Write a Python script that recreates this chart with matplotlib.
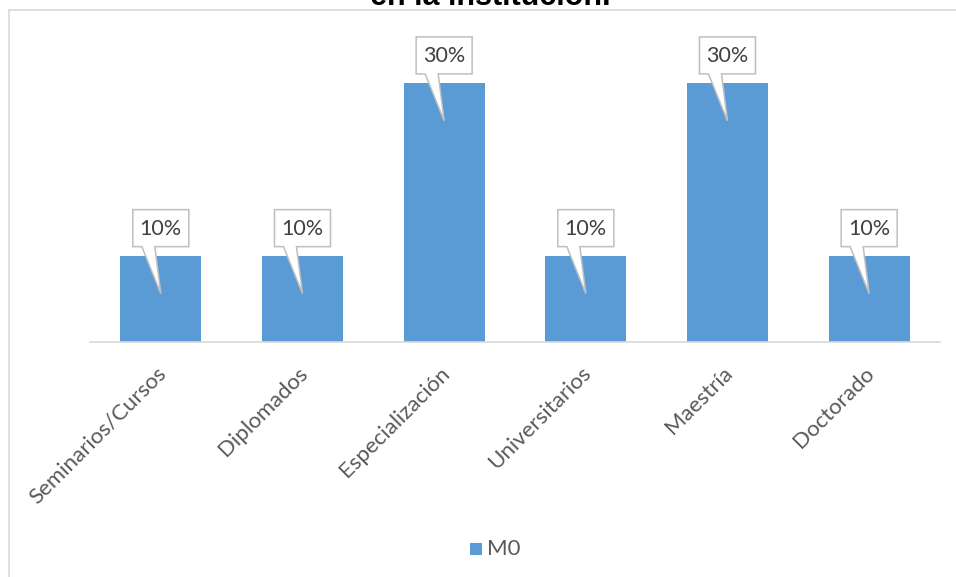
import matplotlib
matplotlib.use("Agg")
import matplotlib.pyplot as plt
from matplotlib.patches import Polygon, Rectangle

categories = ["Seminarios/Cursos", "Diplomados", "Especialización", "Universitarios", "Maestría", "Doctorado"]
values = [0.10, 0.10, 0.30, 0.10, 0.30, 0.10]
labels = ["10%", "10%", "30%", "10%", "30%", "10%"]
series_name = "M0"
title_text = "en la institución."

W, H = 956, 577
fig = plt.figure(figsize=(W / 100, H / 100), dpi=100)

def fx(px):
    return px / W

def fy(py):
    return 1 - py / H

BAR = "#5b9bd5"
GRID = "#d9d9d9"
TXT = "#595959"

# chart border
fig.patches.append(Rectangle((fx(9), fy(600)), fx(1000), fy(10) - fy(600), transform=fig.transFigure,
                             facecolor="none", edgecolor=GRID, lw=1.2, zorder=0))

ax = fig.add_axes([fx(90), fy(342), fx(940) - fx(90), fy(57) - fy(342)])
ax.set_xlim(-0.5, len(categories) - 0.5)
ax.set_ylim(0, 0.33)
x = list(range(len(categories)))
ax.bar(x, values, width=0.57, color=BAR, zorder=2)
for s in ["top", "right", "left"]:
    ax.spines[s].set_visible(False)
ax.spines["bottom"].set_color(GRID)
ax.spines["bottom"].set_linewidth(1.2)
ax.set_yticks([])
ax.set_xticks(x)
ax.set_xticklabels([])
ax.tick_params(axis="x", length=0)
ax.patch.set_visible(False)

# category labels rotated
for xi, cat in zip(x, categories):
    dx, dy = ax.transData.transform((xi, 0))
    fig.text(dx - 5, dy - 21, cat, transform=None, rotation=45, rotation_mode="anchor",
             ha="right", va="top", fontsize=16, color=TXT, family="Lato")

# callouts
for xi, v, lab in zip(x, values, labels):
    cx, top = ax.transData.transform((xi, v))
    bb = top + 9
    bt = top + 46
    L, R = cx - 28, cx + 28
    tip = top - 38
    pts = [(L, bb), (cx - 19, bb), (cx, tip), (cx - 6, bb), (R, bb), (R, bt), (L, bt)]
    poly = Polygon(pts, closed=True, transform=None, facecolor="white", edgecolor="#bfbfbf", lw=1.1, zorder=5)
    fig.patches.append(poly)
    fig.text(cx, (bb + bt) / 2 - 1, lab, transform=None, ha="center", va="center", fontsize=15.5,
             color="#404040", family="Lato", zorder=6)

# legend
fig.patches.append(Rectangle((fx(470), fy(555)), fx(12), fy(543) - fy(555), transform=fig.transFigure,
                             facecolor=BAR, edgecolor="none"))
fig.text(fx(487), fy(549), series_name, ha="left", va="center", fontsize=16, color=TXT, family="Lato")

# title (cut off at top, as in the reference)
fig.text(fx(490), fy(5), title_text, ha="center", va="baseline", fontsize=22, fontweight="bold",
         color="black", family="Liberation Sans")

fig.savefig("out.png", dpi=100)
